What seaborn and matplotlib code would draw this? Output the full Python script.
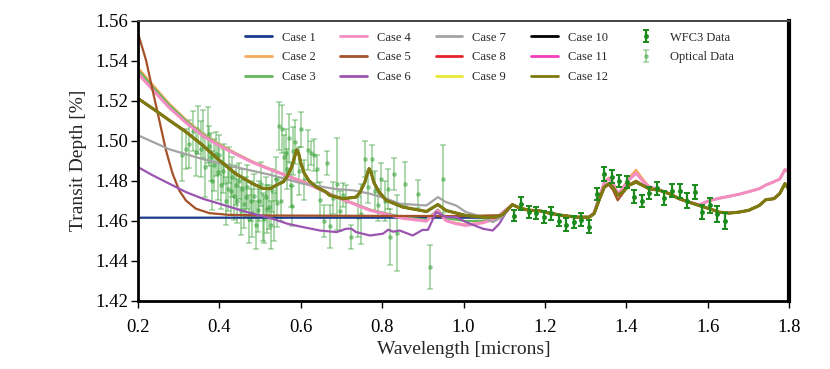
import matplotlib
matplotlib.use("Agg")
import matplotlib.pyplot as plt
import numpy as np
import pandas as pd
import seaborn as sns

# ---------------- data ----------------
case_names = [f"Case {i}" for i in range(1, 13)]

# near-IR part shared by the model spectra
ir_wave = [1.12, 1.14, 1.162, 1.186, 1.211, 1.244, 1.277, 1.309, 1.321, 1.333,
           1.346, 1.357, 1.367, 1.379, 1.391, 1.407, 1.424, 1.440, 1.456, 1.481,
           1.506, 1.530, 1.554, 1.579, 1.604, 1.628, 1.653, 1.677, 1.701, 1.727,
           1.743, 1.763, 1.777, 1.790, 1.797, 1.800]
ir_low = [1.4680, 1.4662, 1.4652, 1.4650, 1.4638, 1.4626, 1.4618, 1.4618, 1.4635, 1.4702,
          1.4768, 1.4785, 1.4768, 1.4727, 1.4743, 1.4777, 1.4793, 1.4777, 1.4760, 1.4752,
          1.4735, 1.4710, 1.4693, 1.4676, 1.4660, 1.4643, 1.4638, 1.4643, 1.4652, 1.4676,
          1.4705, 1.4710, 1.4735, 1.4785, 1.4765, 1.4755]
ir_high = [1.4680, 1.4662, 1.4652, 1.4650, 1.4638, 1.4626, 1.4618, 1.4618, 1.4640, 1.4712,
           1.4790, 1.4810, 1.4790, 1.4735, 1.4760, 1.4805, 1.4838, 1.4800, 1.4770, 1.4755,
           1.4735, 1.4710, 1.4693, 1.4680, 1.4700, 1.4712, 1.4722, 1.4732, 1.4745, 1.4760,
           1.4778, 1.4795, 1.4808, 1.4855, 1.4848, 1.4845]
ir_case2 = [1.4680, 1.4662, 1.4652, 1.4650, 1.4638, 1.4626, 1.4618, 1.4618, 1.4642, 1.4715,
            1.4795, 1.4815, 1.4792, 1.4735, 1.4765, 1.4815, 1.4855, 1.4810, 1.4772, 1.4755,
            1.4735, 1.4710, 1.4693, 1.4680, 1.4700, 1.4712, 1.4722, 1.4732, 1.4745, 1.4760,
            1.4778, 1.4795, 1.4808, 1.4855, 1.4848, 1.4845]
ir_case5 = [1.4680, 1.4662, 1.4652, 1.4650, 1.4638, 1.4626, 1.4618, 1.4618, 1.4635, 1.4700,
            1.4765, 1.4780, 1.4755, 1.4702, 1.4735, 1.4780, 1.4800, 1.4780, 1.4760, 1.4752,
            1.4735, 1.4710, 1.4693, 1.4676, 1.4660, 1.4643, 1.4638, 1.4643, 1.4652, 1.4676,
            1.4705, 1.4710, 1.4735, 1.4785, 1.4765, 1.4755]

# optical part, case by case
opt1_wave = [0.2, 0.6, 1.08, 1.096]
opt1_depth = [1.4615, 1.4615, 1.4615, 1.4625]

rayleigh_wave = [0.2, 0.236, 0.277, 0.318, 0.359, 0.400, 0.440, 0.482, 0.530, 0.6055,
                 0.688, 0.770, 0.851, 0.9086, 0.937, 0.957, 0.982, 1.006, 1.048, 1.080, 1.096]
opt2_depth = [1.5365, 1.5280, 1.5185, 1.5105, 1.5035, 1.4983, 1.4938, 1.4895, 1.4855, 1.4796,
              1.4720, 1.4655, 1.4615, 1.4600, 1.4655, 1.4602, 1.4588, 1.4580, 1.4592, 1.4612, 1.4642]
opt3_depth = [1.5353, 1.5270, 1.5178, 1.5100, 1.5032, 1.4980, 1.4936, 1.4893, 1.4853, 1.4795,
              1.4720, 1.4655, 1.4618, 1.4605, 1.4655, 1.4612, 1.4605, 1.4598, 1.4600, 1.4612, 1.4642]
opt4_depth = [1.5336, 1.5255, 1.5165, 1.5090, 1.5025, 1.4975, 1.4933, 1.4891, 1.4852, 1.4794,
              1.4718, 1.4652, 1.4612, 1.4598, 1.4651, 1.4600, 1.4585, 1.4576, 1.4590, 1.4610, 1.4640]

opt5_wave = [0.2, 0.2197, 0.2358, 0.2524, 0.2687, 0.2851, 0.3014, 0.3178, 0.3423, 0.3751,
             0.4241, 0.5224, 0.8, 1.0, 1.096]
opt5_depth = [1.5537, 1.5403, 1.5253, 1.5102, 1.4952, 1.4835, 1.4751, 1.4701, 1.4660, 1.4638,
              1.4629, 1.4626, 1.4624, 1.4623, 1.4628]

opt6_wave = [0.2, 0.236, 0.277, 0.318, 0.359, 0.400, 0.440, 0.482, 0.530, 0.567,
             0.6055, 0.647, 0.688, 0.712, 0.724, 0.736, 0.770, 0.802, 0.815, 0.827,
             0.843, 0.875, 0.8995, 0.9125, 0.933, 0.957, 0.9816, 1.006, 1.0475, 1.0718,
             1.088, 1.1043]
opt6_depth = [1.4868, 1.4827, 1.4785, 1.4743, 1.4710, 1.4685, 1.4660, 1.4635, 1.4610, 1.4585,
              1.4568, 1.4551, 1.4543, 1.4560, 1.4560, 1.4543, 1.4526, 1.4535, 1.4555, 1.4545,
              1.4551, 1.4526, 1.4554, 1.4554, 1.4643, 1.4618, 1.4618, 1.4593, 1.4560, 1.4551,
              1.4585, 1.4640]

opt7_wave = [0.2, 0.277, 0.359, 0.440, 0.524, 0.6055, 0.688, 0.729, 0.770, 0.811,
             0.843, 0.9086, 0.925, 0.937, 0.957, 0.982, 1.006, 1.048, 1.072, 1.096]
opt7_depth = [1.5027, 1.4957, 1.4908, 1.4868, 1.4830, 1.4785, 1.4758, 1.4752, 1.4735, 1.4710,
              1.4685, 1.4676, 1.4700, 1.4718, 1.4693, 1.4676, 1.4643, 1.4618, 1.4593, 1.4620]

opt12_wave = [0.2, 0.236, 0.277, 0.318, 0.359, 0.400, 0.440, 0.482, 0.506, 0.524,
              0.547, 0.557, 0.565, 0.578, 0.585, 0.590, 0.595, 0.600, 0.608, 0.620,
              0.638, 0.661, 0.671, 0.704, 0.736, 0.745, 0.757, 0.763, 0.768, 0.773,
              0.780, 0.792, 0.810, 0.851, 0.909, 0.937, 0.957, 1.006, 1.048, 1.080, 1.096]
opt12_depth = [1.5211, 1.5161, 1.5102, 1.5044, 1.4977, 1.4902, 1.4835, 1.4785, 1.4762, 1.4760,
               1.4785, 1.4794, 1.4815, 1.4870, 1.4920, 1.4955, 1.4935, 1.4890, 1.4840, 1.4800,
               1.4769, 1.4745, 1.4727, 1.4710, 1.4718, 1.4740, 1.4790, 1.4830, 1.4860, 1.4840,
               1.4790, 1.4745, 1.4702, 1.4668, 1.4646, 1.4681, 1.4651, 1.4626, 1.4618, 1.4618, 1.4630]

# observations
wfc3_wave = [1.124, 1.142, 1.161, 1.179, 1.198, 1.216, 1.235, 1.253, 1.272, 1.290,
             1.309, 1.327, 1.346, 1.365, 1.383, 1.402, 1.420, 1.439, 1.457, 1.476,
             1.494, 1.513, 1.531, 1.550, 1.568, 1.587, 1.605, 1.624, 1.642]
wfc3_depth = [1.4626, 1.4685, 1.4643, 1.4640, 1.4620, 1.4638, 1.4601, 1.4580, 1.4595, 1.4606,
              1.4570, 1.4735, 1.4835, 1.4820, 1.4798, 1.4793, 1.4720, 1.4700, 1.4740, 1.4762,
              1.4714, 1.4750, 1.4748, 1.4701, 1.4743, 1.4643, 1.4676, 1.4634, 1.4601]
wfc3_err = [0.0030, 0.0032, 0.0030, 0.0030, 0.0030, 0.0032, 0.0030, 0.0032, 0.0030, 0.0033,
            0.0032, 0.0030, 0.0035, 0.0032, 0.0030, 0.0030, 0.0032, 0.0030, 0.0030, 0.0032,
            0.0035, 0.0032, 0.0033, 0.0035, 0.0033, 0.0035, 0.0035, 0.0040, 0.0040]

opt_wave = [0.309, 0.318, 0.326, 0.334, 0.342, 0.348, 0.354, 0.359, 0.364, 0.371,
            0.375, 0.379, 0.383, 0.387, 0.392, 0.396, 0.400, 0.404, 0.408, 0.412,
            0.416, 0.420, 0.424, 0.428, 0.432, 0.436, 0.440, 0.444, 0.448, 0.452,
            0.456, 0.460, 0.465, 0.469, 0.473, 0.477, 0.481, 0.485, 0.489, 0.494,
            0.498, 0.502, 0.506, 0.510, 0.514, 0.518, 0.522, 0.526, 0.530, 0.534,
            0.538, 0.542, 0.547, 0.551, 0.555, 0.559, 0.563, 0.567, 0.571, 0.575,
            0.578, 0.582, 0.585, 0.595, 0.601, 0.609, 0.617, 0.625, 0.632, 0.640,
            0.648, 0.656, 0.664, 0.672, 0.680, 0.688, 0.696, 0.704, 0.712, 0.724,
            0.740, 0.748, 0.757, 0.765, 0.774, 0.782, 0.790, 0.798, 0.806, 0.814,
            0.820, 0.828, 0.836, 0.855, 0.887, 0.917, 0.949]
opt_depth = [1.4927, 1.4960, 1.4985, 1.5050, 1.4943, 1.5052, 1.4960, 1.5035, 1.4870, 1.5030,
             1.4975, 1.4918, 1.4801, 1.4880, 1.4935, 1.4845, 1.4930, 1.4780, 1.4850, 1.4885,
             1.4700, 1.4759, 1.4880, 1.4750, 1.4820, 1.4726, 1.4780, 1.4700, 1.4800, 1.4650,
             1.4760, 1.4684, 1.4720, 1.4768, 1.4610, 1.4700, 1.4640, 1.4726, 1.4580, 1.4651,
             1.4700, 1.4785, 1.4620, 1.4609, 1.4720, 1.4660, 1.4668, 1.4580, 1.4751, 1.4620,
             1.4810, 1.4690, 1.5073, 1.4700, 1.5056, 1.4920, 1.4936, 1.4860, 1.5011, 1.4780,
             1.4672, 1.4950, 1.4994, 1.4850, 1.5056, 1.4805, 1.4952, 1.4940, 1.4930, 1.4860,
             1.4702, 1.4601, 1.4889, 1.4571, 1.4715, 1.4785, 1.4650, 1.4730, 1.4700, 1.4518,
             1.4620, 1.4635, 1.4910, 1.4770, 1.4910, 1.4750, 1.4680, 1.4810, 1.4700, 1.4760,
             1.4521, 1.4835, 1.4538, 1.4782, 1.4735, 1.4370, 1.4807]
opt_err = [0.013, 0.010, 0.012, 0.010, 0.012, 0.012, 0.014, 0.012, 0.015, 0.014,
           0.010, 0.012, 0.015, 0.013, 0.011, 0.014, 0.010, 0.012, 0.011, 0.010,
           0.012, 0.011, 0.009, 0.012, 0.010, 0.012, 0.010, 0.011, 0.009, 0.012,
           0.010, 0.012, 0.010, 0.011, 0.012, 0.010, 0.012, 0.011, 0.012, 0.011,
           0.010, 0.011, 0.012, 0.012, 0.010, 0.012, 0.011, 0.012, 0.011, 0.012,
           0.011, 0.012, 0.012, 0.010, 0.012, 0.011, 0.012, 0.010, 0.012, 0.011,
           0.010, 0.012, 0.011, 0.012, 0.009, 0.010, 0.010, 0.006, 0.008, 0.007,
           0.009, 0.008, 0.006, 0.011, 0.008, 0.023, 0.010, 0.006, 0.008, 0.006,
           0.010, 0.015, 0.009, 0.008, 0.007, 0.010, 0.008, 0.008, 0.010, 0.010,
           0.014, 0.008, 0.019, 0.011, 0.007, 0.011, 0.017]

colors = ['#1c3a8c', '#f7a95c', '#63b95a', '#f58dc3', '#a5522a', '#9b55b0',
          '#a3a3a3', '#e3242b', '#e8e835', '#000000', '#f23fbd', '#7d7a0f']

# (wave, depth) per case, assembled from the read arrays above
curves = {
    "Case 1": (opt1_wave + ir_wave, opt1_depth + ir_low),
    "Case 2": (rayleigh_wave + ir_wave, opt2_depth + ir_case2),
    "Case 3": (rayleigh_wave + ir_wave, opt3_depth + ir_high),
    "Case 4": (rayleigh_wave + ir_wave, opt4_depth + ir_high),
    "Case 5": (opt5_wave + ir_wave, opt5_depth + ir_case5),
    "Case 6": (opt6_wave + ir_wave, opt6_depth + ir_low),
    "Case 7": (opt7_wave + ir_wave, opt7_depth + ir_low),
    "Case 8": (opt12_wave + ir_wave, opt12_depth + ir_low),
    "Case 9": (opt12_wave + ir_wave, opt12_depth + ir_low),
    "Case 10": (opt12_wave + ir_wave, opt12_depth + ir_low),
    "Case 11": (opt12_wave + ir_wave, opt12_depth + ir_low),
    "Case 12": (opt12_wave + ir_wave, opt12_depth + ir_low),
}
widths = {"Case 4": 2.2, "Case 12": 2.3}

frames = []
for name in case_names:
    w, d = curves[name]
    frames.append(pd.DataFrame({"wave": w, "depth": d, "case": name}))
df = pd.concat(frames, ignore_index=True)

# ---------------- plotting ----------------
sns.set_theme(style="ticks")
plt.rcParams['font.family'] = ['Liberation Serif', 'DejaVu Serif']

fig = plt.figure(figsize=(8.3, 3.69), dpi=100)
ax = fig.add_axes([138 / 830, 1 - 300.7 / 369, (789 - 138) / 830, (300.7 - 20.7) / 369])

opt_h = ax.errorbar(opt_wave, opt_depth, yerr=opt_err, fmt='o', ms=2.4,
                    color='#2e9e2e', alpha=0.4, capsize=2.5, elinewidth=1.4,
                    capthick=1.2, zorder=1, label='Optical Data')

handles = []
for name, col in zip(case_names, colors):
    sub = df[df["case"] == name]
    sns.lineplot(data=sub, x="wave", y="depth", ax=ax, color=col,
                 linewidth=widths.get(name, 1.6), sort=False, estimator=None,
                 label=name, zorder=2, legend=False)
    handles.append(plt.Line2D([], [], color=col, lw=2))

wfc_h = ax.errorbar(wfc3_wave, wfc3_depth, yerr=wfc3_err, fmt='o', ms=2.5,
                    color='#1a8a1a', capsize=2.5, elinewidth=1.6, capthick=1.4,
                    zorder=3, label='WFC3 Data')

ax.set_xlim(0.2, 1.8)
ax.set_ylim(1.42, 1.56)
ax.set_xticks(np.arange(0.2, 1.81, 0.2))
ax.set_yticks(np.arange(1.42, 1.561, 0.02))
ax.xaxis.set_major_formatter(matplotlib.ticker.FormatStrFormatter('%.1f'))
ax.yaxis.set_major_formatter(matplotlib.ticker.FormatStrFormatter('%.2f'))
ax.tick_params(axis='both', direction='out', length=5, width=1, labelsize=13.5,
               colors='black', top=False, right=False)
ax.tick_params(axis='x', pad=8)
ax.tick_params(axis='y', pad=2)
ax.set_xlabel('Wavelength [microns]', fontsize=14, labelpad=4)
ax.set_ylabel('Transit Depth [%]', fontsize=14, labelpad=6)

for side, lw in [('left', 2.0), ('bottom', 2.0), ('right', 3.0), ('top', 1.4)]:
    ax.spines[side].set_visible(True)
    ax.spines[side].set_linewidth(lw)
    ax.spines[side].set_color('black' if side != 'top' else '#444444')

leg = ax.legend(handles + [wfc_h, opt_h], case_names + ['WFC3 Data', 'Optical Data'],
                ncol=5, loc='upper left', bbox_to_anchor=(0.1644, 0.961),
                borderaxespad=0, borderpad=0, frameon=False,
                fontsize=9, handlelength=2.13, columnspacing=2.0, handletextpad=0.8,
                labelspacing=0.62)

fig.savefig('out.png', dpi=100)
